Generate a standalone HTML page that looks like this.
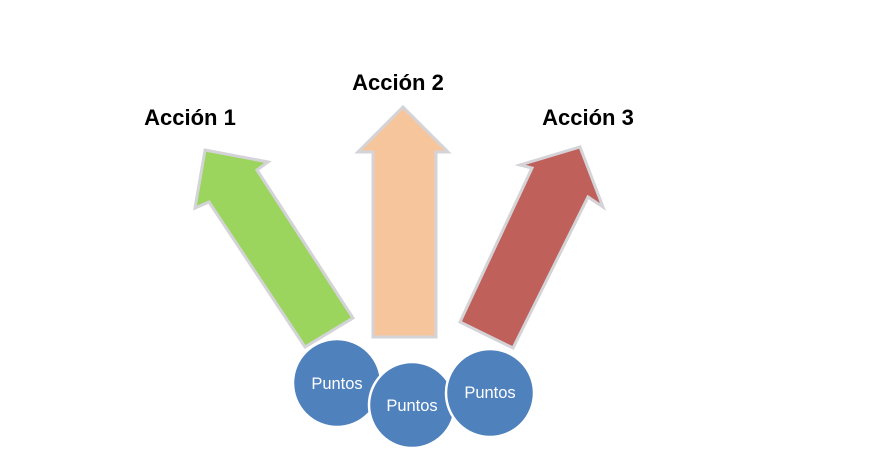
<!DOCTYPE html>
<html><head><meta charset="utf-8"><style>
html,body{margin:0;padding:0;background:#fff;}
svg{display:block;}
</style></head><body>
<svg width="874" height="471" viewBox="0 0 874 471" xmlns="http://www.w3.org/2000/svg">
<rect width="874" height="471" fill="#fff"/>
<g stroke="#d4d4d8" stroke-width="3" stroke-linejoin="miter">
<polygon points="205,150 268,162 257,170 353,318 305,347 209,202 195,208" fill="#9bd55e"/>
<polygon points="403,107 448,152 436,152 436,337 373,337 373,152 358,152" fill="#f7c59b"/>
<polygon points="580,147 603,207 588,197 513,348 460,322 532,168 520,165" fill="#c0605a"/>
</g>
<g fill="#4f81bd" stroke="#fff" stroke-width="2.5">
<circle cx="337" cy="383" r="44"/>
<circle cx="412" cy="405" r="43"/>
<circle cx="490" cy="393" r="44"/>
</g>
<g font-family="Liberation Sans, sans-serif" fill="#fff" font-size="16.5" text-anchor="middle">
<text x="337" y="389">Puntos</text>
<text x="412" y="411">Puntos</text>
<text x="490" y="398">Puntos</text>
</g>
<g font-family="Liberation Sans, sans-serif" font-weight="bold" fill="#000" font-size="22" text-anchor="middle">
<text x="190" y="125">Acción 1</text>
<text x="398" y="90">Acción 2</text>
<text x="588" y="125">Acción 3</text>
</g>
</svg>
</body></html>
